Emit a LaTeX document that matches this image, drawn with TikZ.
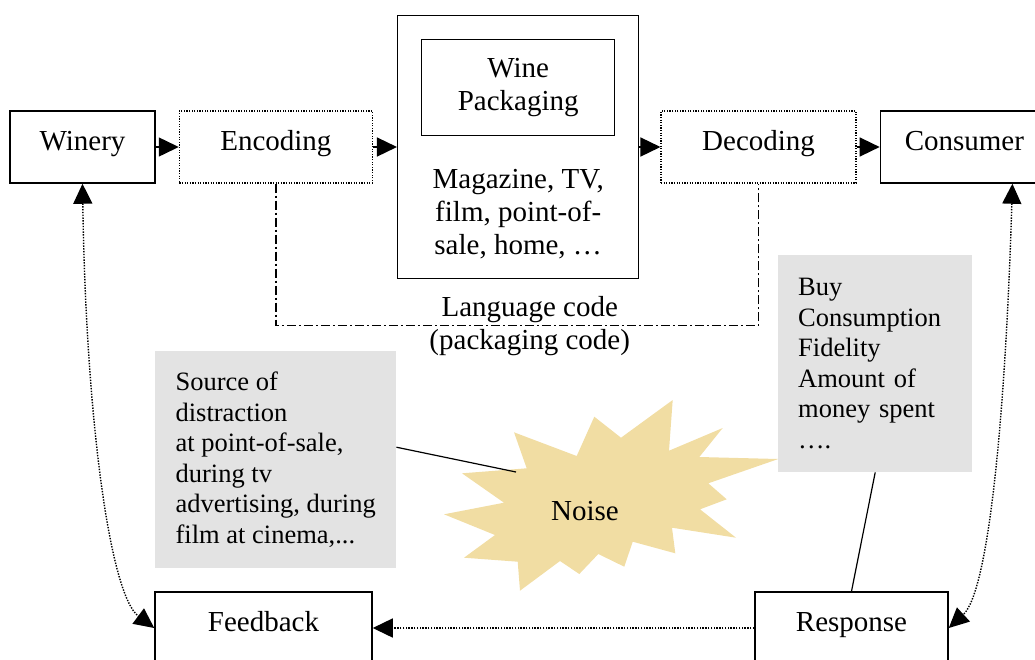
\documentclass[tikz,border=0pt]{standalone}
\usepackage{fontspec}
\setmainfont{Liberation Serif}
\usetikzlibrary{arrows.meta,positioning}
\definecolor{noisefill}{RGB}{241,221,163}
\definecolor{notegray}{RGB}{227,227,227}

\begin{document}
\begin{tikzpicture}[x=1pt,y=-1pt,
font=\fontsize{29pt}{33pt}\selectfont,
box/.style={draw,line width=1.5pt,minimum height=72pt,inner sep=0pt,text height=20pt,text depth=14pt},
codebox/.style={box,line width=1.2pt,dash pattern=on 1.2pt off 1.4pt},
packbox/.style={draw,line width=1.5pt,align=center,minimum width=193pt,minimum height=96pt,inner sep=0pt},
note/.style={fill=notegray,anchor=north west,align=left,minimum height=217pt,inner xsep=20pt,font=\fontsize{26.5pt}{30.5pt}\selectfont},
flow/.style={-{Triangle[length=20pt,width=19pt]},line width=1.5pt},
fbflow/.style={-{Triangle[length=20pt,width=19pt]},line width=1.4pt,dash pattern=on 1.4pt off 1.4pt},
loop/.style={fbflow,{Triangle[length=20pt,width=19pt]}-{Triangle[length=20pt,width=19pt]}},
codeline/.style={line width=1.5pt,dash pattern=on 9pt off 3pt on 2pt off 3pt}]
\useasboundingbox (0,0) rectangle (1035,659);
\clip (0,0) rectangle (1035,659);

% noise burst
\fill[noisefill] (672.7,400) -- (669,450.7) -- (722.7,428) -- (699.3,457) -- (778.3,459)
  -- (708.3,483.3) -- (726.7,499.3) -- (700,509.3) -- (736,537.7) -- (672,527.7)
  -- (675.3,553.3) -- (632.7,541.7) -- (624.3,566.7) -- (598.3,554) -- (579.3,574)
  -- (560,561) -- (520,590.7) -- (517.7,561.7) -- (464,557.7) -- (495,535)
  -- (444,514.3) -- (504,502.7) -- (462,473.3) -- (526.7,468.3) -- (514,432.3)
  -- (576.7,456) -- (594.3,416.7) -- (621,437.7) -- cycle;
\node[anchor=base] (noise) at (585,520) {Noise};
\coordinate (noisetip) at (516,472);

% communication chain
\node[box,minimum width=145pt] (winery) at (82.5,147) {Winery};
\node[codebox,minimum width=193pt,right=23pt of winery] (enc) {Encoding};
\node[draw,line width=1.5pt,minimum width=241pt,minimum height=263pt,right=24pt of enc] (media) {};
\node[codebox,minimum width=195pt,right=21pt of media] (dec) {Decoding};
\node[box,minimum width=168pt,right=23pt of dec] (consumer) {Consumer};
\node[packbox,below=24pt of media.north] (pack) {Wine\\Packaging};
\node[align=center,inner sep=0pt,below=33pt of pack] (mediatext) {Magazine, TV,\\film, point-of-\\sale, home, …};
\node[align=center,inner sep=0pt,below=17pt of media,xshift=11.5pt] (langcode) {Language code\\(packaging code)};

% return path
\node[box,minimum width=217pt] (feedback) at (263.5,628) {Feedback};
\node[box,minimum width=193pt] (response) at (851.5,628) {Response};

% grey notes
\node[note,minimum width=241pt] (distract) at (155,351) {Source of\\distraction\\at point-of-sale,\\during tv\\advertising, during\\film at cinema,...};
\node[note,text width=154pt] (buy) at (778,255) {Buy\\Consumption\\Fidelity\\Amount of\\money spent\\….};

\draw[flow] (winery) -- (enc);
\draw[flow] (enc) -- (media);
\draw[flow] (media) -- (dec);
\draw[flow] (dec) -- (consumer);
\draw[codeline] (enc.south) -- ++(0,142) -| (dec.south);
\draw[line width=1.2pt] ([yshift=12.5pt]distract.east) -- (noisetip);
\draw[line width=1.2pt] (buy.south) -- (response.north);
\draw[fbflow] (response) -- (feedback);
\draw[loop] (winery.south) .. controls (86,420) and (110,595) .. (feedback.west);
\draw[loop] ([xshift=48pt]consumer.south) .. controls (1006,400) and (990,590) .. (response.east);
\end{tikzpicture}
\end{document}
